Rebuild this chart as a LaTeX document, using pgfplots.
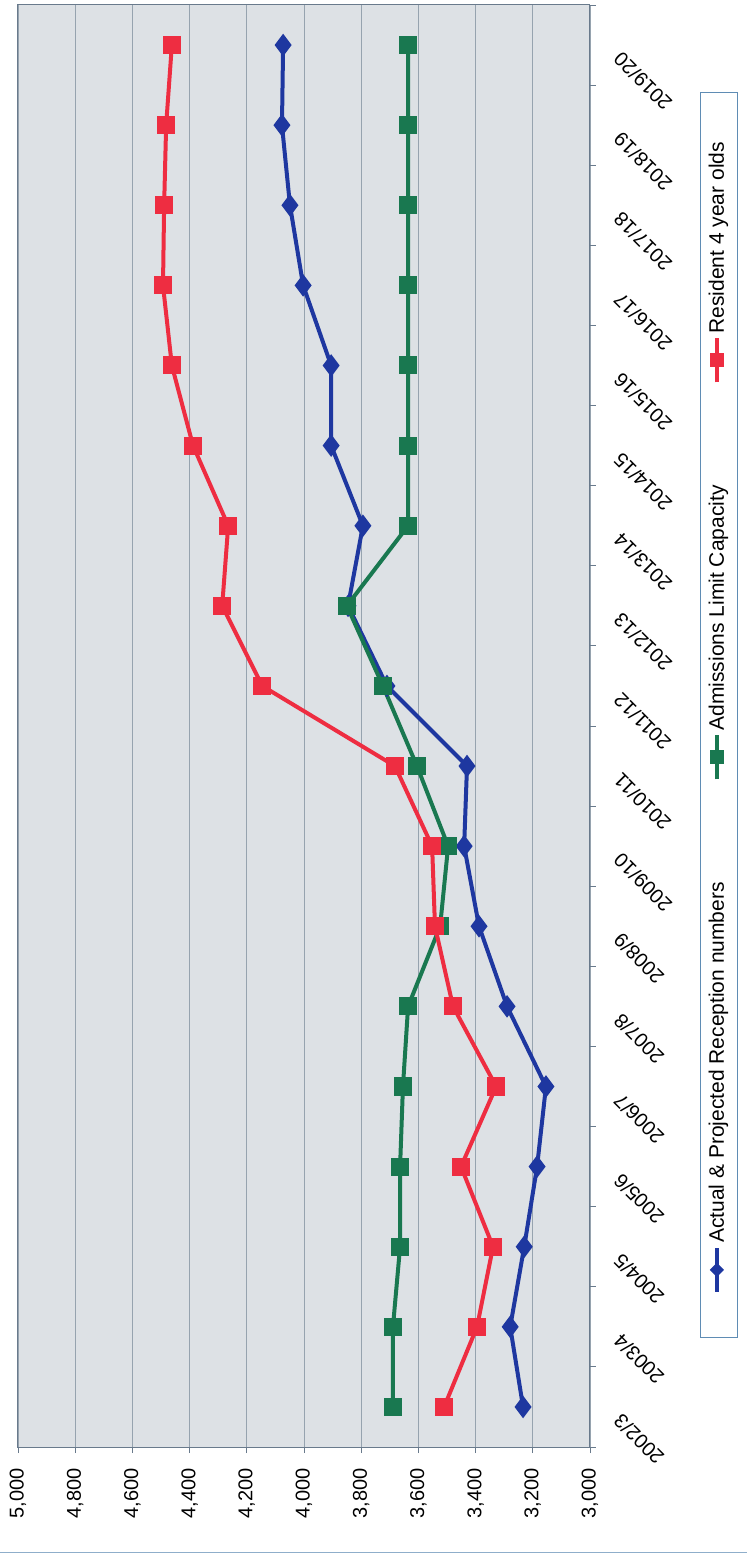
\documentclass[border=0pt]{standalone}
\usepackage{fontspec}
\setmainfont{Liberation Sans}
\usepackage{pgfplots}
\pgfplotsset{compat=1.18}

\definecolor{plotbg}{RGB}{221,225,229}
\definecolor{gridc}{RGB}{150,163,175}
\definecolor{framec}{RGB}{105,122,140}
\definecolor{serblue}{RGB}{30,55,160}
\definecolor{serred}{RGB}{238,45,65}
\definecolor{sergreen}{RGB}{25,120,80}
\definecolor{legframe}{RGB}{95,140,180}

% legend keys: a thick line with the series marker in its middle
\newcommand{\keysq}[1]{{\color{#1}\rlap{\rule[5pt]{44pt}{4pt}}\hspace*{15pt}\rule{14pt}{14pt}\hspace*{15pt}}}
\newcommand{\keydia}[1]{{\color{#1}\rlap{\rule[5pt]{44pt}{4pt}}\hspace*{15pt}\rotatebox{45}{\rule{10pt}{10pt}}\hspace*{15pt}}}

\begin{document}
\begin{tikzpicture}[x=1pt,y=1pt]
\path[use as bounding box] (-18,-108) rectangle (729,1447);
\begin{axis}[
    at={(0,0)}, anchor=south west,
    scale only axis, width=572pt, height=1442pt,
    xmin=3000, xmax=5000, x dir=reverse,
    ymin=-0.5, ymax=17.5,
    axis background/.style={fill=plotbg},
    axis line style={framec, line width=1pt},
    xtick={3000,3200,3400,3600,3800,4000,4200,4400,4600,4800,5000},
    xmajorgrids, major grid style={gridc, line width=0.8pt},
    tick align=outside,
    major tick length=6pt, minor tick length=6pt,
    tick style={framec, line width=0.8pt},
    /pgf/number format/1000 sep={,},
    /pgf/number format/assume math mode=true,
    xticklabel style={yshift=-12pt, rotate=90, anchor=east,
        font=\fontsize{20}{20}\selectfont},
    xtick pos=bottom,
    ytick={-0.5,0.5,...,17.5},
    yticklabel=\empty,
    ytick pos=right,
    yticklabel pos=right,
    extra y ticks={0,1,...,17},
    extra y tick labels={2002/3,2003/4,2004/5,2005/6,2006/7,2007/8,2008/9,2009/10,
        2010/11,2011/12,2012/13,2013/14,2014/15,2015/16,2016/17,2017/18,2018/19,2019/20},
    extra y tick style={major tick length=0pt,
        yticklabel style={xshift=17pt, yshift=-16pt, rotate=135, anchor=north east,
            font=\fontsize{20}{20}\selectfont}},
]
\addplot[serblue, line width=4pt, mark=diamond*, mark size=8pt] coordinates {
    (3234,0) (3279,1) (3230,2) (3185,3) (3154,4) (3290,5) (3388,6) (3440,7) (3430,8)
    (3710,9) (3846,10) (3794,11) (3905,12) (3905,13) (4003,14) (4049,15) (4077,16) (4073,17)
};
\addplot[sergreen, line width=4pt, mark=square*, mark size=7pt] coordinates {
    (3689,0) (3689,1) (3664,2) (3664,3) (3654,4) (3636,5) (3524,6) (3496,7) (3605,8)
    (3724,9) (3850,10) (3636,11) (3636,12) (3636,13) (3636,14) (3636,15) (3636,16) (3636,17)
};
\addplot[serred, line width=4pt, mark=square*, mark size=7pt] coordinates {
    (3510,0) (3395,1) (3339,2) (3451,3) (3328,4) (3479,5) (3542,6) (3552,7) (3682,8)
    (4146,9) (4286,10) (4265,11) (4388,12) (4462,13) (4493,14) (4489,15) (4482,16) (4462,17)
};
\end{axis}
% legend, turned like the rest of the chart
\node[rotate=90, draw=legframe, line width=1pt, fill=white, inner sep=0pt,
      minimum height=37pt, font=\fontsize{21}{21}\selectfont, anchor=center]
  at (700.5,731.5)
  {\hspace*{46pt}\makebox[1150pt][s]{\keydia{serblue}\hspace{5pt}Actual \& Projected Reception numbers\hfill
   \keysq{sergreen}\hspace{5pt}Admissions Limit Capacity\hfill
   \keysq{serred}\hspace{5pt}Resident 4 year olds}\hspace*{49pt}};
\draw[legframe!70, line width=1pt] (-18,-105) -- (729,-105);
\end{tikzpicture}
\end{document}
